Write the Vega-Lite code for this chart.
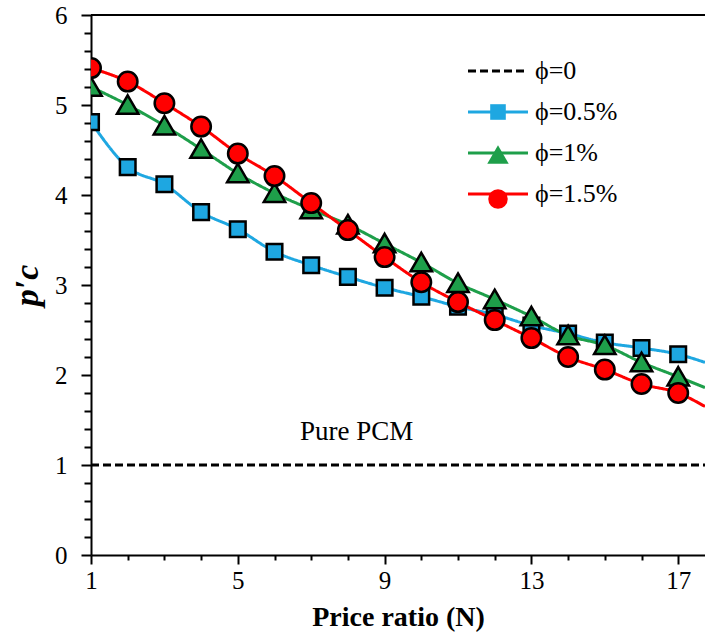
{
  "$schema": "https://vega.github.io/schema/vega-lite/v6.json",
  "width": 614,
  "height": 540,
  "autosize": {"type": "none"},
  "padding": {"left": 91, "top": 15, "right": 0, "bottom": 89},
  "background": "white",
  "config": {"view": {"stroke": null}, "font": "Liberation Serif"},
  "data": {
    "values": [
      {"phi": "ϕ=0", "N": 1, "p": 1},
      {"phi": "ϕ=0", "N": 17.73, "p": 1},
      {"phi": "ϕ=0.5%", "N": 1, "p": 4.81},
      {"phi": "ϕ=0.5%", "N": 2, "p": 4.31},
      {"phi": "ϕ=0.5%", "N": 3, "p": 4.12},
      {"phi": "ϕ=0.5%", "N": 4, "p": 3.81},
      {"phi": "ϕ=0.5%", "N": 5, "p": 3.62},
      {"phi": "ϕ=0.5%", "N": 6, "p": 3.37},
      {"phi": "ϕ=0.5%", "N": 7, "p": 3.22},
      {"phi": "ϕ=0.5%", "N": 8, "p": 3.09},
      {"phi": "ϕ=0.5%", "N": 9, "p": 2.97},
      {"phi": "ϕ=0.5%", "N": 10, "p": 2.87},
      {"phi": "ϕ=0.5%", "N": 11, "p": 2.76},
      {"phi": "ϕ=0.5%", "N": 12, "p": 2.67},
      {"phi": "ϕ=0.5%", "N": 13, "p": 2.55},
      {"phi": "ϕ=0.5%", "N": 14, "p": 2.46},
      {"phi": "ϕ=0.5%", "N": 15, "p": 2.36},
      {"phi": "ϕ=0.5%", "N": 16, "p": 2.3},
      {"phi": "ϕ=0.5%", "N": 17, "p": 2.23},
      {"phi": "ϕ=0.5%", "N": 17.73, "p": 2.14},
      {"phi": "ϕ=1%", "N": 1, "p": 5.2},
      {"phi": "ϕ=1%", "N": 2, "p": 5.0},
      {"phi": "ϕ=1%", "N": 3, "p": 4.77},
      {"phi": "ϕ=1%", "N": 4, "p": 4.51},
      {"phi": "ϕ=1%", "N": 5, "p": 4.24},
      {"phi": "ϕ=1%", "N": 6, "p": 4.02},
      {"phi": "ϕ=1%", "N": 7, "p": 3.84},
      {"phi": "ϕ=1%", "N": 8, "p": 3.67},
      {"phi": "ϕ=1%", "N": 9, "p": 3.46},
      {"phi": "ϕ=1%", "N": 10, "p": 3.25},
      {"phi": "ϕ=1%", "N": 11, "p": 3.02},
      {"phi": "ϕ=1%", "N": 12, "p": 2.84},
      {"phi": "ϕ=1%", "N": 13, "p": 2.65},
      {"phi": "ϕ=1%", "N": 14, "p": 2.44},
      {"phi": "ϕ=1%", "N": 15, "p": 2.33},
      {"phi": "ϕ=1%", "N": 16, "p": 2.14},
      {"phi": "ϕ=1%", "N": 17, "p": 1.98},
      {"phi": "ϕ=1%", "N": 17.73, "p": 1.86},
      {"phi": "ϕ=1.5%", "N": 1, "p": 5.41},
      {"phi": "ϕ=1.5%", "N": 2, "p": 5.26},
      {"phi": "ϕ=1.5%", "N": 3, "p": 5.02},
      {"phi": "ϕ=1.5%", "N": 4, "p": 4.76},
      {"phi": "ϕ=1.5%", "N": 5, "p": 4.46},
      {"phi": "ϕ=1.5%", "N": 6, "p": 4.21},
      {"phi": "ϕ=1.5%", "N": 7, "p": 3.91},
      {"phi": "ϕ=1.5%", "N": 8, "p": 3.61},
      {"phi": "ϕ=1.5%", "N": 9, "p": 3.31},
      {"phi": "ϕ=1.5%", "N": 10, "p": 3.03},
      {"phi": "ϕ=1.5%", "N": 11, "p": 2.81},
      {"phi": "ϕ=1.5%", "N": 12, "p": 2.61},
      {"phi": "ϕ=1.5%", "N": 13, "p": 2.41},
      {"phi": "ϕ=1.5%", "N": 14, "p": 2.2},
      {"phi": "ϕ=1.5%", "N": 15, "p": 2.06},
      {"phi": "ϕ=1.5%", "N": 16, "p": 1.9},
      {"phi": "ϕ=1.5%", "N": 17, "p": 1.8},
      {"phi": "ϕ=1.5%", "N": 17.73, "p": 1.65}
    ]
  },
  "layer": [
    {
      "mark": {"type": "line", "strokeWidth": 3, "interpolate": "monotone", "clip": true},
      "encoding": {
        "x": {
          "field": "N", "type": "quantitative",
          "scale": {"domain": [1, 17.73], "nice": false, "zero": false},
          "axis": {
            "values": [1, 2, 3, 4, 5, 6, 7, 8, 9, 10, 11, 12, 13, 14, 15, 16, 17],
            "tickCount": 100,
            "labelExpr": "(datum.value - 1) % 4 === 0 ? format(datum.value, 'd') : ''",
            "tickSize": {"condition": {"test": "(datum.value - 1) % 4 === 0", "value": 9}, "value": 5},
            "tickColor": "black", "tickWidth": 2,
            "domainColor": "black", "domainWidth": 2,
            "grid": false, "labelOverlap": false, "labelFlush": false,
            "labelFont": "Liberation Serif", "labelFontSize": 25, "labelColor": "black", "labelPadding": 4,
            "title": "Price ratio (N)", "titleFont": "Liberation Serif", "titleFontSize": 28,
            "titleFontWeight": "bold", "titleColor": "black", "titlePadding": 10
          }
        },
        "y": {
          "field": "p", "type": "quantitative",
          "scale": {"domain": [0, 6], "nice": false},
          "axis": {
            "values": [0, 0.2, 0.4, 0.6, 0.8, 1, 1.2, 1.4, 1.6, 1.8, 2, 2.2, 2.4, 2.6, 2.8, 3, 3.2, 3.4, 3.6, 3.8, 4, 4.2, 4.4, 4.6, 4.8, 5, 5.2, 5.4, 5.6, 5.8, 6],
            "tickCount": 100,
            "labelExpr": "datum.value % 1 === 0 ? format(datum.value, 'd') : ''",
            "tickSize": {"condition": {"test": "datum.value % 1 === 0", "value": 10}, "value": 7},
            "tickColor": "black", "tickWidth": 2,
            "domainColor": "black", "domainWidth": 2,
            "grid": false, "labelOverlap": false, "labelFlush": false,
            "labelFont": "Liberation Serif", "labelFontSize": 25, "labelColor": "black", "labelPadding": 14,
            "title": "p′c", "titleFont": "Liberation Serif", "titleFontSize": 34,
            "titleFontWeight": "bold", "titleFontStyle": "italic", "titleColor": "black", "titlePadding": 10
          }
        },
        "stroke": {
          "field": "phi", "type": "nominal",
          "scale": {"domain": ["ϕ=0", "ϕ=0.5%", "ϕ=1%", "ϕ=1.5%"], "range": ["black", "#1EA7E1", "#1E9F4A", "#FF0000"]},
          "legend": {
            "orient": "none", "legendX": 394, "legendY": 43, "title": null, "zindex": 1,
            "symbolType": "M-3,0H3", "symbolSize": 400, "symbolStrokeWidth": 3,
            "labelFont": "Liberation Serif", "labelFontSize": 26, "labelColor": "black",
            "labelOffset": 24, "rowPadding": 15, "padding": 0
          }
        },
        "strokeDash": {
          "field": "phi", "type": "nominal",
          "scale": {"domain": ["ϕ=0", "ϕ=0.5%", "ϕ=1%", "ϕ=1.5%"], "range": [[8, 4], [1, 0], [1, 0], [1, 0]]},
          "legend": {
            "orient": "none", "legendX": 394, "legendY": 43, "title": null, "zindex": 1,
            "symbolType": "M-3,0H3", "symbolSize": 400, "symbolStrokeWidth": 3,
            "labelFont": "Liberation Serif", "labelFontSize": 26, "labelColor": "black",
            "labelOffset": 24, "rowPadding": 15, "padding": 0
          }
        }
      }
    },
    {
      "mark": {"type": "rule", "color": "black", "strokeWidth": 2},
      "encoding": {"y": {"datum": 6}}
    },
    {
      "transform": [{"filter": "datum.phi !== 'ϕ=0' && datum.N <= 17"}],
      "mark": {"type": "point", "filled": true, "stroke": "black", "strokeWidth": 2.5, "opacity": 1, "size": 380, "clip": true},
      "encoding": {
        "x": {"field": "N", "type": "quantitative"},
        "y": {"field": "p", "type": "quantitative"},
        "fill": {
          "field": "phi", "type": "nominal",
          "scale": {"domain": [" ", "ϕ=0.5%", "ϕ=1%", "ϕ=1.5%"], "range": ["transparent", "#1EA7E1", "#1E9F4A", "#FF0000"]},
          "legend": {
            "orient": "none", "legendX": 394, "legendY": 43, "title": null, "zindex": 2,
            "symbolSize": 380, "symbolStrokeColor": "black", "symbolStrokeWidth": 2.5, "symbolOpacity": 1,
            "labelFont": "Liberation Serif", "labelFontSize": 26, "labelOpacity": 0, "labelExpr": "''",
            "labelOffset": 24, "rowPadding": 15, "padding": 0
          }
        },
        "shape": {
          "field": "phi", "type": "nominal",
          "scale": {"domain": [" ", "ϕ=0.5%", "ϕ=1%", "ϕ=1.5%"], "range": ["M0,0", "M-0.8,-0.8H0.8V0.8H-0.8Z", "M0,-1L1.1,0.9L-1.1,0.9Z", "circle"]},
          "legend": {
            "orient": "none", "legendX": 394, "legendY": 43, "title": null, "zindex": 2,
            "symbolSize": 380, "symbolStrokeColor": "black", "symbolStrokeWidth": 2.5, "symbolOpacity": 1,
            "labelFont": "Liberation Serif", "labelFontSize": 26, "labelOpacity": 0, "labelExpr": "''",
            "labelOffset": 24, "rowPadding": 15, "padding": 0
          }
        }
      }
    },
    {
      "data": {"values": [{"label": "Pure PCM", "N": 8.24, "p": 1.37}]},
      "mark": {"type": "text", "font": "Liberation Serif", "fontSize": 27, "color": "black"},
      "encoding": {
        "x": {"field": "N", "type": "quantitative"},
        "y": {"field": "p", "type": "quantitative"},
        "text": {"field": "label"}
      }
    }
  ]
}
